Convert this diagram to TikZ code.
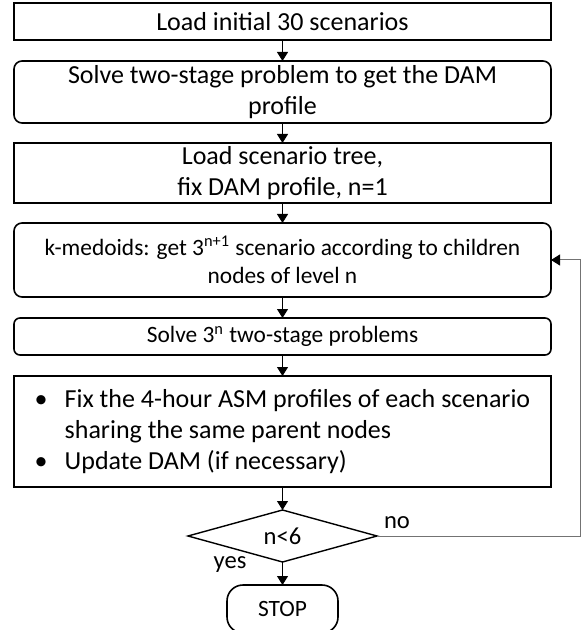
\documentclass[tikz,border=0pt]{standalone}
\usepackage{fontspec}
\setmainfont{Carlito}
\usepackage{tikz}
\usetikzlibrary{shapes,arrows.meta,positioning,calc}

\newcommand{\bigtxt}{\fontsize{13}{15.5}\selectfont}
\newcommand{\midtxt}{\fontsize{12.3}{14.8}\selectfont}
\newcommand{\smalltxt}{\fontsize{11.7}{14}\selectfont}
\newcommand{\itembul}{\makebox[15pt][l]{\textbullet}}

\begin{document}
\begin{tikzpicture}[
    block/.style={rectangle, draw, line width=0.9pt, outer sep=0pt, minimum width=268.5pt, align=center, inner ysep=0pt, font=\bigtxt},
    rblock/.style={block, rounded corners=4pt, line width=0.8pt},
    listblock/.style={block, line width=1.3pt, align=left},
    decision/.style={diamond, aspect=3.6, draw, line width=0.7pt, outer sep=0pt, minimum width=94.5pt, minimum height=26pt, inner sep=0pt, font=\midtxt},
    terminal/.style={rectangle, draw, rounded corners=8pt, line width=0.8pt, outer sep=0pt, minimum width=55.5pt, minimum height=24pt, font=\smalltxt},
    arrow/.style={line width=0.5pt, -{Triangle[length=4.5pt, width=5.5pt]}},
    feedback/.style={line width=0.5pt, draw=black!55, -{Triangle[length=4.5pt, width=5.5pt, color=black]}}
]
\useasboundingbox (0,0) rectangle (292pt,-315pt);

% Initial steps
\node [block, minimum height=18.5pt] (load) at (141.25pt,-10.75pt) {Load initial 30 scenarios};
\node [rblock, minimum height=31pt, below=10.5pt of load] (dam) {Solve two-stage problem to get the DAM\\profile};
\node [block, minimum height=30pt, below=10pt of dam] (tree) {Load scenario tree,\\fix DAM profile, n=1};

% Loop body
\node [rblock, minimum height=37pt, below=10pt of tree, font=\smalltxt] (kmed) {k-medoids: get 3\textsuperscript{n+1} scenario according to children\\nodes of level n};
\node [rblock, rounded corners=3pt, minimum height=18.5pt, below=10.5pt of kmed, font=\smalltxt] (solve) {Solve 3\textsuperscript{n} two-stage problems};
\node [listblock, minimum height=55.5pt, below=10.5pt of solve] (fix) {\itembul Fix the 4-hour ASM profiles of each scenario\\\hspace*{15pt}sharing the same parent nodes\\\itembul Update DAM (if necessary)};

% Check and stop
\node [decision, below=11.5pt of fix] (check) {n<6};
\node [terminal, below=11.5pt of check] (stop) {STOP};

% Arrows
\draw [arrow] (load) -- (dam);
\draw [arrow] (dam) -- (tree);
\draw [arrow] (tree) -- (kmed);
\draw [arrow] (kmed) -- (solve);
\draw [arrow] (solve) -- (fix);
\draw [arrow] (fix) -- (check);
\draw [arrow] (check) -- (stop);

% Branch labels
\node [anchor=south west, font=\midtxt] (no) at (check.east) {no};
\node [anchor=east, xshift=-14.5pt, yshift=-1.5pt, font=\midtxt] (yes) at (check.south) {yes};

% Back to k-medoids
\coordinate (back) at ([xshift=14.5pt]kmed.east);
\draw [feedback] (check.east) -| (back) -- (kmed.east);

\end{tikzpicture}
\end{document}
